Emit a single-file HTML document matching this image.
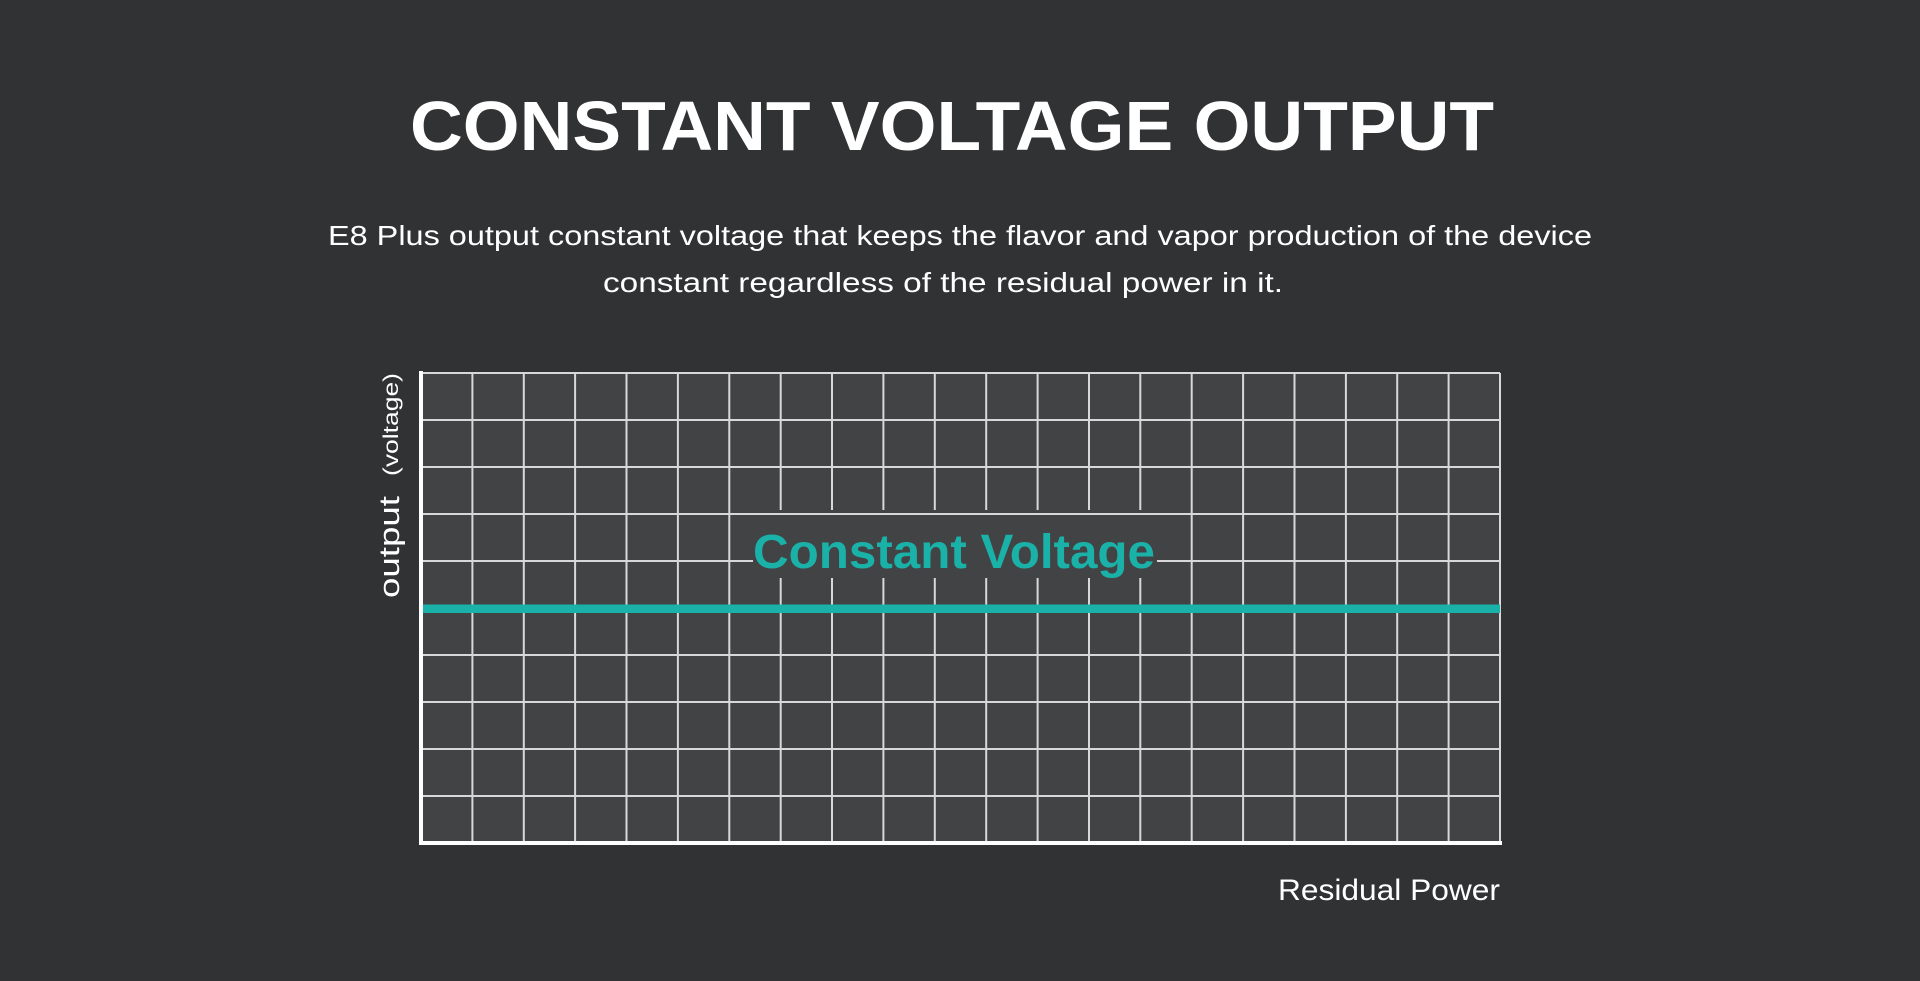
<!DOCTYPE html>
<html><head><meta charset="utf-8"><style>
html,body{margin:0;padding:0;background:#313234;}
svg{display:block;}
</style></head><body>
<svg width="1920" height="981" viewBox="0 0 1920 981" xmlns="http://www.w3.org/2000/svg">
<rect width="1920" height="981" fill="#313234"/>
<text x="952" y="150" fill="#ffffff" font-family="Liberation Sans, sans-serif" font-weight="bold" font-size="70" text-anchor="middle" textLength="1084" lengthAdjust="spacingAndGlyphs">CONSTANT VOLTAGE OUTPUT</text>
<text x="328" y="245" fill="#ffffff" font-family="Liberation Sans, sans-serif" font-size="28" textLength="1264" lengthAdjust="spacingAndGlyphs">E8 Plus output constant voltage that keeps the flavor and vapor production of the device</text>
<text x="603" y="292" fill="#ffffff" font-family="Liberation Sans, sans-serif" font-size="28" textLength="680" lengthAdjust="spacingAndGlyphs">constant regardless of the residual power in it.</text>
<rect x="421" y="373" width="1079" height="470" fill="#424345"/>
<g stroke="#d8d8d8" stroke-width="2">
<path d="M421 373H1500 M421 420H1500 M421 467H1500 M421 514H1500 M421 561H753 M1157 561H1500 M421 655H1500 M421 702H1500 M421 749H1500 M421 796H1500"/>
<path d="M1500 373V843"/>
<path d="M472.4 373V843 M523.8 373V843 M575.1 373V843 M626.5 373V843 M677.9 373V843 M729.3 373V843 M780.7 373V510 M780.7 578V843 M832 373V510 M832 578V843 M883.4 373V510 M883.4 578V843 M934.8 373V510 M934.8 578V843 M986.2 373V510 M986.2 578V843 M1037.6 373V510 M1037.6 578V843 M1089 373V510 M1089 578V843 M1140.3 373V510 M1140.3 578V843 M1191.7 373V843 M1243.1 373V843 M1294.5 373V843 M1345.9 373V843 M1397.2 373V843 M1448.6 373V843"/>
</g>
<rect x="421" y="604.5" width="1079" height="8.5" fill="#1ab2a8"/>
<rect x="419" y="371" width="4" height="474" fill="#ffffff"/>
<rect x="419" y="841" width="1083" height="4" fill="#ffffff"/>
<text x="954" y="568" fill="#1ab2a8" font-family="Liberation Sans, sans-serif" font-weight="bold" font-size="48" text-anchor="middle" textLength="402" lengthAdjust="spacingAndGlyphs">Constant Voltage</text>
<text x="1500" y="900" fill="#ffffff" font-family="Liberation Sans, sans-serif" font-size="30" text-anchor="end" textLength="222" lengthAdjust="spacingAndGlyphs">Residual Power</text>
<g transform="translate(399,598) rotate(-90)">
<text x="0" y="0" fill="#ffffff" font-family="Liberation Sans, sans-serif" font-size="29" textLength="102" lengthAdjust="spacingAndGlyphs">output</text>
<text x="122" y="-1" fill="#ffffff" font-family="Liberation Sans, sans-serif" font-size="21" textLength="103" lengthAdjust="spacingAndGlyphs">(voltage)</text>
</g>
</svg>
</body></html>
